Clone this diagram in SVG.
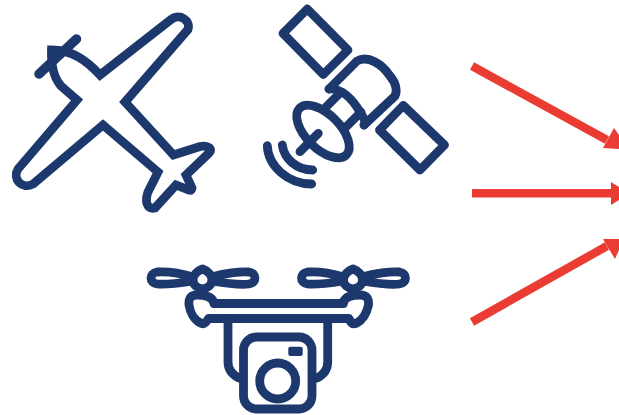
<svg xmlns="http://www.w3.org/2000/svg" width="619" height="415" viewBox="0 0 619 415">
<defs>
<style>
.i{fill:none;stroke:#1d386d;stroke-width:8.800;stroke-linecap:round;stroke-linejoin:round}
.a{fill:none;stroke:#ea3c32;stroke-width:8.500}
.h{fill:#ea3c32}
</style>
<g id="rotor">
<path d="M193 277C180 273 166 271.500 157 272C149 273 149 283 157 284C166 285 180 283 193 281"/>
<path d="M212 277C224 273 240 271.500 249 272C257 273 257 283 249 284C240 285 224 283 212 281"/>
<path d="M202.500 269C208 271 212 275 212 280C212 285 208 288 202.500 289C197 288 193 285 193 280C193 275 197 271 202.500 269Z"/>
</g>
</defs>
<rect width="619" height="415" fill="#fff"/>
<g id="airplane" class="i">
<path stroke-width="9.500" d="M39 74L76.500 39"/>
<path stroke-linejoin="miter" d="M51.500 50C72 50 86 60 100 75L171 19.500C179 13 191 20 188 29.500L125 102L173.500 155L200 146.500C206 145 214 148 209 153L186 175L192 188Q192 191 189 190L176 185L155 208C146 210 145 200 148 192L158 172L103 125L33 184C22 190 12 179 18 169L77 100L61 86C54 78 51 65 51.500 50Z"/>
</g>
<g id="satellite" class="i">
<path d="M307.300 9L348 50L323.300 74.500L283 33.300Z"/>
<path d="M403.300 105.500L444.500 145L420 170L379.500 130Z"/>
<path d="M329 89L357 61C368 55 382 64 390 76C397 84 397 92 395 96L364 125"/>
<path d="M329 89C342 88 353 100 360 112C364 118 366 122 364 125"/>
<path d="M340 93L325 108M361 112L345 128"/>
<ellipse cx="323" cy="131.500" rx="17" ry="33" transform="rotate(-45 323 131.500)"/>
<path d="M318.300 133.300L300 151.700"/>
<path d="M282.300 145C284 159 297 170 312.700 170"/>
<path d="M267.300 145.700C268 166 288 184 311.700 184"/>
</g>
<g id="drone" class="i">
<use href="#rotor"/>
<use href="#rotor" x="150.500"/>
<path d="M214 303.500H343.400C344 297 350 295 360 295C367 295 369 299 368.500 305C367 312 363 320 356 323.500C352 325 350 321 349 318.500H208.500C207 321 205 325 201.500 323.500C194 320 190 312 189 305C188.500 299 190 295 197 295C207 295 213 297 214 303.500Z"/>
<path d="M228 320V362C228 370 233 375 239 378M327.700 320V362C327.700 370 323 375 317 378"/>
<rect x="243.500" y="337" width="68.500" height="72" rx="13"/>
<circle cx="277.700" cy="381" r="18"/>
<rect x="288.300" y="346.700" width="14.400" height="9.300" rx="2" fill="#1d386d" stroke="none"/>
</g>
<g id="connectors">
<path class="a" d="M472 66L607 140"/>
<path class="h" d="M619 149L603 148L614 128L619 135Z"/>
<path class="a" d="M472 193.300H612"/>
<path class="h" d="M611 182L619 187V200L611 205Z"/>
<path class="a" d="M472 322L607 246"/>
<path class="h" d="M603 239L619 239V250L615 259Z"/>
</g>
</svg>
